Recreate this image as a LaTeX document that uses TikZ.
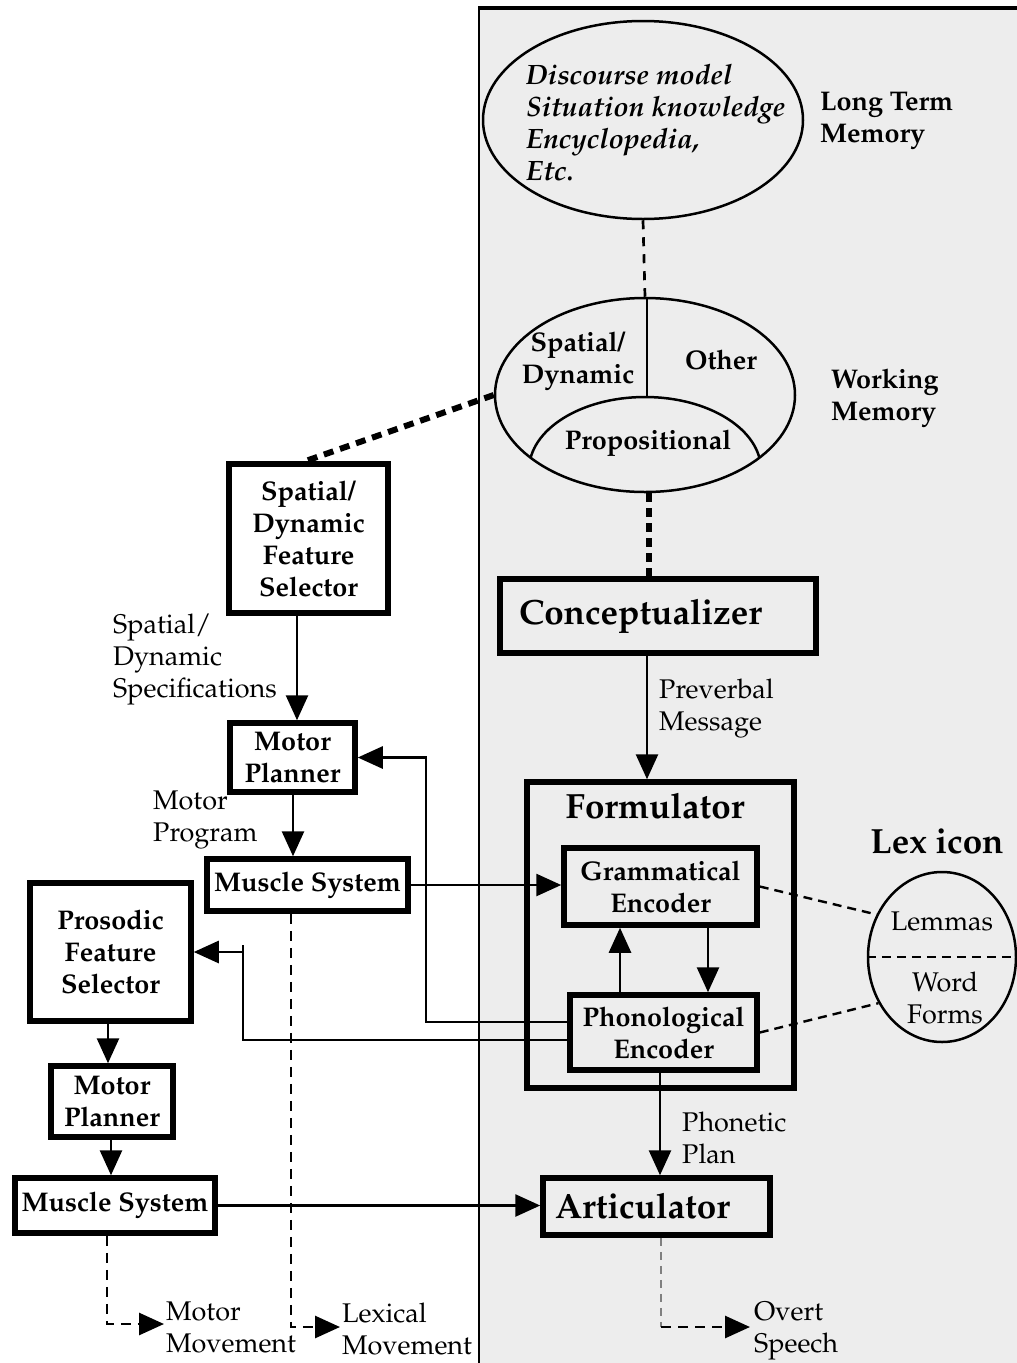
\documentclass[tikz,border=0pt]{standalone}
\usepackage[T1]{fontenc}
\usepackage{mathpazo}
\usetikzlibrary{arrows.meta,calc,shapes.geometric}
\definecolor{panel}{HTML}{EDEDED}
\definecolor{dgray}{HTML}{808080}
\newcommand\myfs{\fontsize{27}{32}\selectfont}
\newcommand\myfsI{\fontsize{28}{32}\selectfont}
\newcommand\myfsL{\fontsize{35}{40}\selectfont}
\begin{document}
\begin{tikzpicture}[x=1pt,y=-1pt,
  box/.style={draw, line width=5.5pt, align=center, font=\bfseries\myfs, inner sep=0pt},
  lbl/.style={align=left, font=\myfs, inner sep=0pt, anchor=west},
  blbl/.style={align=left, font=\bfseries\myfs, inner sep=0pt, anchor=west},
  ctext/.style={align=center, font=\bfseries\myfs, inner sep=0pt},
  tip/.style={-{Triangle[length=25pt,width=22pt]}},
  ln/.style={line width=2.7pt},
  arr/.style={ln, tip},
  dashln/.style={line width=2.8pt, dash pattern=on 10pt off 7pt},
  dasharr/.style={dashln, tip},
  thickdot/.style={line width=6pt, dash pattern=on 9pt off 6pt},
  lexdash/.style={line width=2.4pt, dash pattern=on 9pt off 6pt},
  oval/.style={ellipse, draw, line width=2.5pt, inner sep=0pt}
]
\useasboundingbox (0,0) rectangle (1017,1363);
% gray panel
\fill[panel] (479,8) rectangle (1030,1375);
\draw[line width=2.5pt] (479,1375) -- (479,8);
\draw[line width=3.5pt] (478,8) -- (1030,8);

% Long term memory
\node[oval, minimum width=320, minimum height=198] (ltm) at (643,120) {};
\node[lbl, font=\bfseries\itshape\myfsI] (ltmtext) at (526,123) {Discourse model\\Situation knowledge\\Encyclopedia,\\Etc.};
\node[blbl] (ltmlab) at (820,121) {Long Term\\Memory};

% Working memory
\node[oval, minimum width=300, minimum height=194] (wm) at (645,395) {};
\begin{scope}
  \clip (645,395) ellipse [x radius=150, y radius=97];
  \draw[line width=2.5pt] (645,470) ellipse [x radius=116, y radius=73];
\end{scope}
\coordinate (wmsplit) at (647,397);
\draw[line width=2.5pt] (wm.north -| wmsplit) -- (wmsplit);
\node[ctext] (wmsd) at (578,361) {Spatial/\\Dynamic};
\node[ctext] (wmother) at (721,360) {Other};
\node[ctext] (wmprop) at (648,443) {Propositional};
\node[blbl] (wmlab) at (831,398) {Working\\Memory};

\draw[ln, dash pattern=on 9pt off 8pt] (ltm.south) -- (wm.north);

% Conceptualizer
\node[box, minimum width=316, minimum height=74, text width=278, inner xsep=19pt, align=left, font=\bfseries\myfsL] (concept) at (658,616) {Conceptualizer};
\coordinate (c649) at (649,0);
\draw[thickdot] (c649 |- wm.south) -- (c649 |- concept.north);

% Formulator
\node[draw, line width=5.5pt, minimum width=267, minimum height=306, inner sep=0pt] (form) at (660.5,935) {};
\node[ctext, font=\bfseries\myfsL] (formlab) at (655,806) {Formulator};
\node[box, minimum width=193, minimum height=77] (gram) at (660.5,886.5) {Grammatical\\Encoder};
\node[box, minimum width=187, minimum height=75] (phon) at (663.5,1032.5) {Phonological\\Encoder};
\coordinate (c620) at (620,0);
\coordinate (c708) at (708,0);
\draw[arr] (c620 |- phon.north) -- (c620 |- gram.south);
\draw[arr] (c708 |- gram.south) -- (c708 |- phon.north);

\coordinate (c647) at (647,0);
\draw[arr] (c647 |- concept.south) -- (c647 |- form.north);
\node[lbl] (prevlab) at (659,709) {Preverbal\\Message};

% Lexicon
\node[oval, minimum width=148, minimum height=170] (lex) at (942,957) {};
\draw[lexdash] (lex.west) -- (lex.east);
\node[blbl, anchor=center, font=\bfseries\myfsL] (lexlab) at (937,841) {Lex icon};
\node[ctext, font=\myfs] (lemmas) at (942,921) {Lemmas};
\node[ctext, font=\myfs] (wordforms) at (945,998) {Word\\Forms};
\draw[lexdash] (gram.east) -- (lex.147);
\draw[lexdash] (phon.east) -- (lex.216);

% Articulator
\node[box, minimum width=227, minimum height=57, text width=203, inner xsep=12pt, align=left, font=\bfseries\myfsL] (artic) at (656.5,1206.5) {Articulator};
\coordinate (c660) at (660,0);
\draw[arr] (c660 |- phon.south) -- (c660 |- artic.north);
\node[lbl] (phonlab) at (682,1138) {Phonetic\\Plan};

% left column
\node[box, minimum width=159, minimum height=149] (spat) at (308.5,538.5) {Spatial/\\Dynamic\\Feature\\Selector};
\draw[thickdot, dash pattern=on 10pt off 7pt] (wm.west) -- (spat.north -| 305,0);
\node[lbl] (speclab) at (113,660) {Spatial/\\Dynamic\\Specifications};

\node[box, minimum width=125, minimum height=69] (mp1) at (292.5,757.5) {Motor\\Planner};
\coordinate (c297) at (297,0);
\draw[arr] (c297 |- spat.south) -- (c297 |- mp1.north);
\node[lbl] (mplab) at (153,820) {Motor\\Program};

\node[box, minimum width=201, minimum height=52] (ms1) at (307.5,885) {Muscle System};
\coordinate (c293) at (293,0);
\draw[arr] (c293 |- mp1.south) -- (c293 |- ms1.north);
\draw[arr] (ms1.east) -- (ms1.east -| gram.west);

\node[box, minimum width=161, minimum height=138] (pros) at (110.5,952) {Prosodic\\Feature\\Selector};
\node[box, minimum width=122, minimum height=71] (mp2) at (112,1101.5) {Motor\\Planner};
\node[box, minimum width=200, minimum height=55] (ms2) at (115,1205.5) {Muscle System};
\coordinate (c108) at (108,0);
\coordinate (c111) at (111,0);
\draw[arr] (c108 |- pros.south) -- (c108 |- mp2.north);
\draw[arr] (c111 |- mp2.south) -- (c111 |- ms2.north);
\draw[arr] (ms2.east) -- (ms2.east -| artic.west);

% feedback from phonological encoder
\coordinate (fb1) at (426,1022);
\draw[arr] (fb1 -| phon.west) -- (fb1) |- (mp1.east);
\coordinate (fb2) at (243,1040);
\draw[ln] (fb2 -| phon.west) -- (fb2) -- ++(0,-95);
\draw[arr] (fb2 |- pros.east) -- (pros.east);

% movements
\coordinate (c291) at (291,0);
\coordinate (lexend) at (340,1327);
\draw[dasharr] (c291 |- ms1.south) |- (lexend);
\node[lbl] (lexmov) at (342,1329) {Lexical\\Movement};

\coordinate (c107) at (107,0);
\coordinate (motend) at (164,1324);
\draw[dasharr] (c107 |- ms2.south) |- (motend);
\node[lbl] (motmov) at (166,1327) {Motor\\Movement};

\coordinate (overtcorner) at (661,1327);
\coordinate (overtend) at (750,1327);
\draw[line width=1.4pt, dgray, dash pattern=on 8pt off 6pt] (overtcorner |- artic.south) -- (overtcorner);
\draw[dasharr] (overtcorner) -- (overtend);
\node[lbl] (overt) at (754,1331) {Overt\\Speech};
\end{tikzpicture}
\end{document}
